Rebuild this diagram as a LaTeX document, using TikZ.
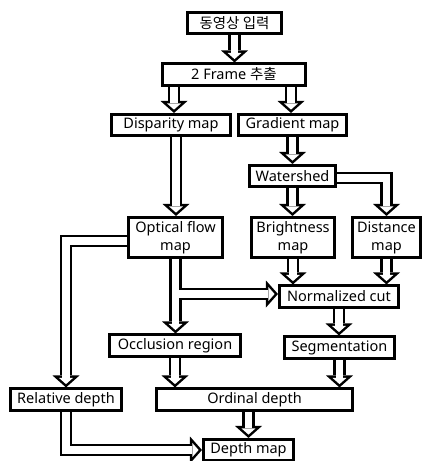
\documentclass[tikz,border=0pt]{standalone}
\usepackage{fontspec}
\setmainfont{Noto Sans}
\newfontfamily\krfont{Noto Sans CJK KR}
\usetikzlibrary{arrows.meta,backgrounds}

% hollow arrows: first pass black outline, second pass white core
\newcommand\hollowlinks[1]{%
  \draw[#1] (video) -- (video |- frame.north);
  \draw[#1] ([xshift=-60pt]frame.south) -- ([xshift=-60pt]frame.south |- disparity.north);
  \draw[#1] ([xshift=57pt]frame.south) -- ([xshift=57pt]frame.south |- gradient.north);
  \draw[#1] ([xshift=5pt]disparity.south) -- ([xshift=5pt]disparity.south |- optflow.north);
  \draw[#1] (gradient) -- (gradient |- watershed.north);
  \draw[#1] (watershed) -- (watershed |- bright.north);
  \draw[#1] ([yshift=-2pt]watershed.east) -| (distance.north);
  \draw[#1] ([yshift=-3.5pt]optflow.west) -| (reldepth.north);
  \draw[#1] (optflow) -- (optflow |- occlusion.north);
  \draw[#1] ([yshift=2.5pt]ncut.west -| optflow.south) -- ([yshift=2.5pt]ncut.west);
  \draw[#1] (bright) -- (bright |- ncut.north);
  \draw[#1] (distance) -- (distance |- ncut.north);
  \draw[#1] (ncut) -- (ncut |- segment.north);
  \draw[#1] (occlusion) -- (occlusion |- orddepth.north);
  \draw[#1] (segment) -- (segment |- orddepth.north);
  \draw[#1] (depthmap |- orddepth.south) -- (depthmap);
  \draw[#1] (reldepth) |- (depthmap.west);
}

\begin{document}
\begin{tikzpicture}[x=1pt, y=-1pt,
    box/.style={draw, line width=2.6pt, fill=white, align=center, inner sep=2pt,
      minimum height=21.5pt, font=\fontsize{14.5}{18}\selectfont},
    hout/.style={line width=12.5pt, line join=miter,
      -{Triangle[length=12pt, width=27pt, line width=0pt]}},
    hin/.style={draw=white, line width=7.5pt, line join=miter, shorten >=3.34pt,
      -{Triangle[length=6.16pt, width=13.86pt, line width=0pt]}}
  ]
  \useasboundingbox (0,0) rectangle (422,461);

  % Input
  \node[box, minimum width=94.5pt] (video) at (234.5,23) {\krfont 동영상 입력};
  \node[box, minimum width=143.5pt] (frame) at (234,74.5) {2 Frame {\krfont 추출}};

  % Left branch
  \node[box, minimum width=119.5pt] (disparity) at (171,125) {Disparity map};
  \node[box, minimum width=94.5pt, minimum height=40.5pt] (optflow) at (175.5,237.5) {Optical flow\\map};
  \node[box, minimum width=131.5pt] (occlusion) at (175,345.5) {Occlusion region};
  \node[box, minimum width=111.5pt] (reldepth) at (66,399.5) {Relative depth};

  % Right branch
  \node[box, minimum width=108.5pt] (gradient) at (292.5,125) {Gradient map};
  \node[box, minimum width=86.5pt] (watershed) at (292.5,176) {Watershed};
  \node[box, minimum width=83.5pt, minimum height=40.5pt] (bright) at (293,237.5) {Brightness\\map};
  \node[box, minimum width=68.5pt, minimum height=40.5pt] (distance) at (386.5,237.5) {Distance\\map};
  \node[box, minimum width=119.5pt] (ncut) at (339,296.5) {Normalized cut};
  \node[box, minimum width=110.5pt] (segment) at (339.5,347.5) {Segmentation};

  % Outputs
  \node[box, minimum width=196.5pt] (orddepth) at (254.5,399.5) {Ordinal depth};
  \node[box, minimum width=90.5pt] (depthmap) at (248.5,450) {Depth map};

  % Connections
  \begin{scope}[on background layer]
    \hollowlinks{hout}
    \hollowlinks{hin}
  \end{scope}
\end{tikzpicture}
\end{document}
